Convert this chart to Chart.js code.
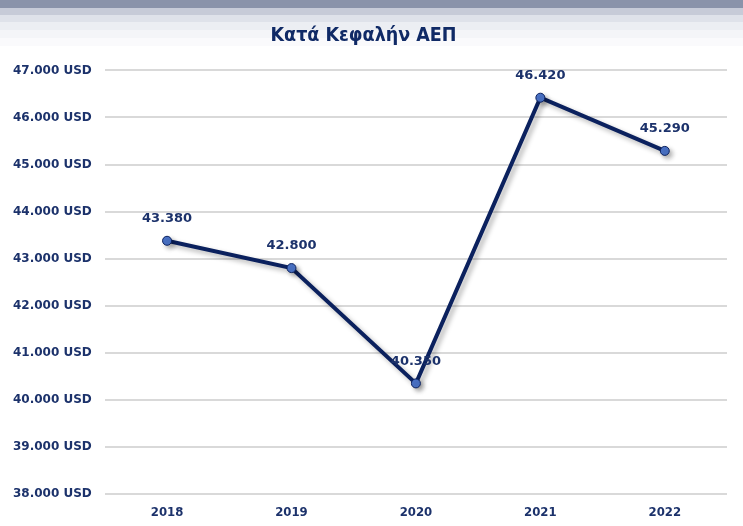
<!DOCTYPE html>
<html lang="el">
<head>
    <title>Κατά Κεφαλήν ΑΕΠ</title>
    <meta charset="UTF-8">
    <script src="https://cdn.jsdelivr.net/npm/chart.js"></script>
    <style>
        html, body {
            margin: 0;
            padding: 0;
        }
        body {
            width: 743px;
            height: 526px;
            background: linear-gradient(to bottom,
                #8a93aa 0px, #8a93aa 8px,
                #c7cbd8 8px, #c7cbd8 15px,
                #dfe2ea 15px, #dfe2ea 22px,
                #eceef3 22px, #eceef3 30px,
                #f4f5f8 30px, #f4f5f8 38px,
                #fafafc 38px, #fafafc 46px,
                #ffffff 46px);
        }
        #wrap {
            position: relative;
            width: 743px;
            height: 526px;
        }
    </style>
</head>
<body>
    <div id="wrap">
        <canvas id="chart"></canvas>
    </div>
    <script>
        // Δεδομένα
        var years = ['2018', '2019', '2020', '2021', '2022'];
        var gdpPerCapita = [43380, 42800, 40350, 46420, 45290];
        var yTicks = [38000, 39000, 40000, 41000, 42000, 43000, 44000, 45000, 46000, 47000];

        var navy = '#0b215e';
        var textColor = '#1c326b';

        function fmt(v) {
            return v.toString().replace(/\B(?=(\d{3})+(?!\d))/g, '.');
        }

        // σκιά της γραμμής
        var shadowPlugin = {
            id: 'lineShadow',
            beforeDatasetDraw: function (chart) {
                var ctx = chart.ctx;
                ctx.save();
                ctx.shadowColor = 'rgba(0, 0, 0, 0.3)';
                ctx.shadowBlur = 5;
                ctx.shadowOffsetX = 3;
                ctx.shadowOffsetY = 3;
            },
            afterDatasetDraw: function (chart) {
                chart.ctx.restore();
            }
        };

        // ετικέτες τιμών
        var labelPlugin = {
            id: 'valueLabels',
            afterDatasetsDraw: function (chart) {
                var ctx = chart.ctx;
                var meta = chart.getDatasetMeta(0);
                var data = chart.data.datasets[0].data;
                ctx.save();
                ctx.font = 'bold 13px "DejaVu Sans", Verdana, sans-serif';
                ctx.fillStyle = textColor;
                ctx.textAlign = 'center';
                ctx.textBaseline = 'middle';
                meta.data.forEach(function (pt, i) {
                    ctx.fillText(fmt(data[i]), pt.x, pt.y - 22);
                });
                ctx.restore();
            }
        };

        var ctx = document.getElementById('chart').getContext('2d');
        var chart = new Chart(ctx, {
            type: 'line',
            data: {
                labels: years,
                datasets: [{
                    data: gdpPerCapita,
                    borderColor: navy,
                    borderWidth: 4,
                    tension: 0,
                    pointRadius: 4.5,
                    pointBackgroundColor: '#4a72c6',
                    pointBorderColor: navy,
                    pointBorderWidth: 1
                }]
            },
            options: {
                responsive: true,
                maintainAspectRatio: false,
                animation: false,
                layout: {
                    padding: { top: 13, right: 16, left: 0, bottom: 3 }
                },
                plugins: {
                    legend: { display: false },
                    tooltip: { enabled: false },
                    title: {
                        display: true,
                        text: 'Κατά Κεφαλήν ΑΕΠ',
                        color: '#102a66',
                        font: { family: '"DejaVu Sans Condensed", "DejaVu Sans", sans-serif', size: 19.5, weight: 'bold' },
                        padding: { top: 11, bottom: 23 }
                    }
                },
                scales: {
                    x: {
                        offset: true,
                        grid: { display: false },
                        border: { display: false },
                        ticks: {
                            color: textColor,
                            padding: 4,
                            font: { family: '"DejaVu Sans Condensed", "DejaVu Sans", sans-serif', size: 13, weight: 'bold', lineHeight: 1.0 }
                        }
                    },
                    y: {
                        min: yTicks[0],
                        max: yTicks[yTicks.length - 1],
                        afterBuildTicks: function (axis) {
                            axis.ticks = yTicks.map(function (v) { return { value: v }; });
                        },
                        grid: { color: '#d9d9d9', lineWidth: 2, drawTicks: false },
                        border: { display: false },
                        ticks: {
                            color: textColor,
                            padding: 13,
                            font: { family: '"DejaVu Sans", Verdana, sans-serif', size: 12, weight: 'bold' },
                            callback: function (v) { return fmt(v) + ' USD'; }
                        }
                    }
                }
            },
            plugins: [shadowPlugin, labelPlugin]
        });
    </script>
</body>
</html>
